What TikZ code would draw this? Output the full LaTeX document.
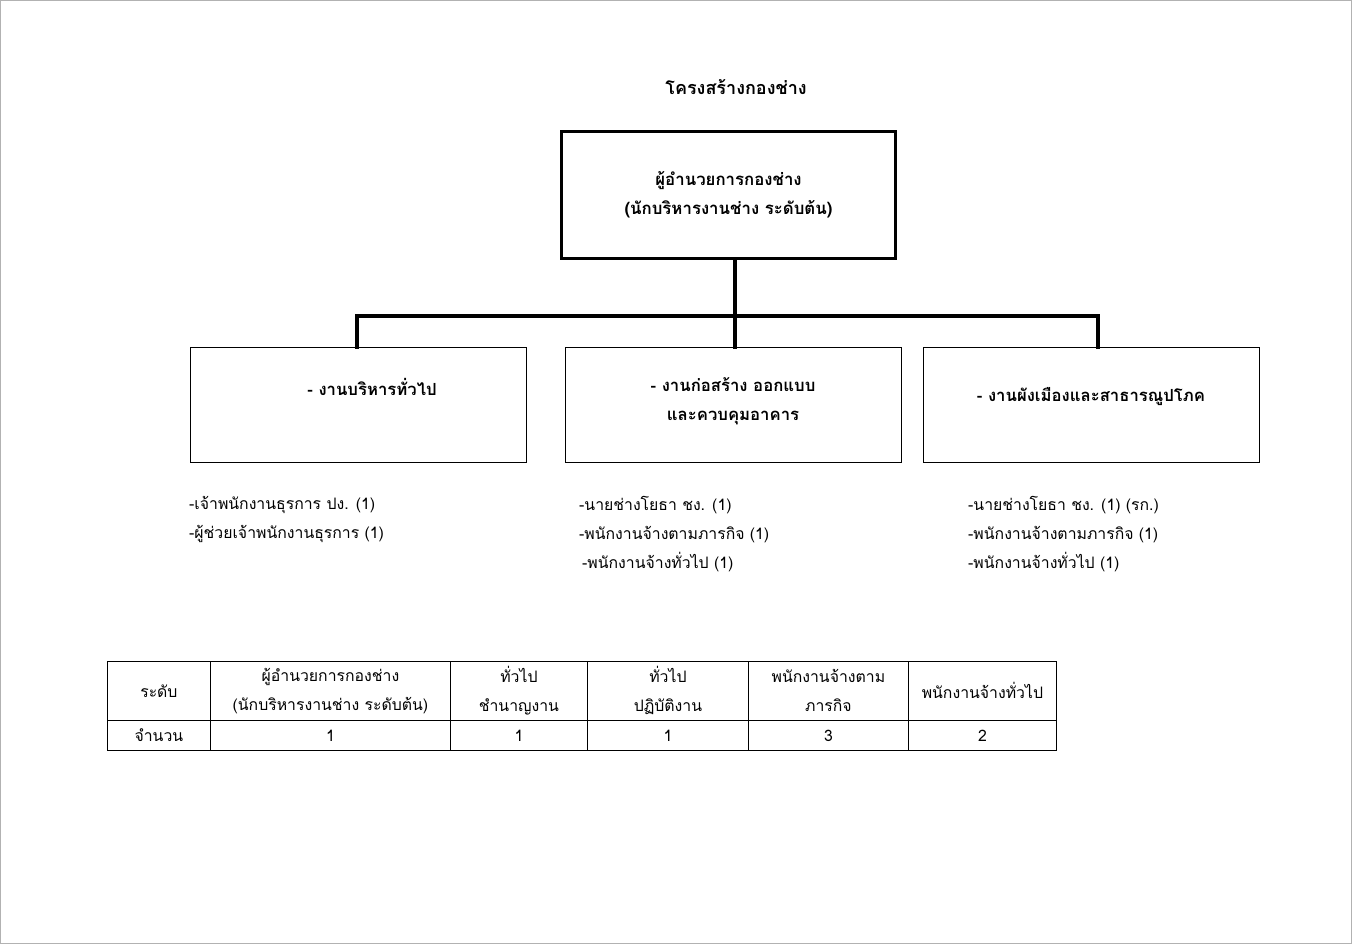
\documentclass[tikz,border=0pt]{standalone}
\usepackage{fontspec}
\newfontfamily\thaifont[Script=Thai]{Loma}
\usetikzlibrary{positioning}

\begin{document}
\begin{tikzpicture}[
  x=1pt, y=-1pt,
  font=\thaifont\fontsize{15.8}{29}\selectfont,
  head/.style={draw, line width=3pt, minimum width=334pt, minimum height=127pt,
    align=center, font=\thaifont\bfseries\fontsize{16.8}{29}\selectfont},
  unit/.style={draw, line width=0.8pt, minimum width=336pt, minimum height=115pt},
  unittxt/.style={align=center, font=\thaifont\bfseries\fontsize{16.7}{29}\selectfont},
  staff/.style={anchor=west, align=left, inner sep=0pt},
  cell/.style={draw, line width=0.8pt, anchor=north west, align=center, inner sep=0pt},
  link/.style={line width=4pt, line cap=rect}
]
  \useasboundingbox (0,0) rectangle (1352,944);
  \draw[gray!60, line width=2pt] (0,0) rectangle (1352,944);

  % title and director
  \node[font=\thaifont\bfseries\fontsize{18}{29}\selectfont] (title) at (736,87) {โครงสร้างกองช่าง};
  \node[head] (dir) at (728.5,195) {ผู้อำนวยการกองช่าง\\(นักบริหารงานช่าง ระดับต้น)};

  % divisions
  \node[unit] (gen) at (358,404.5) {};
  \node[unittxt] (genT) at (372,387) {- งานบริหารทั่วไป};
  \node[unit] (cons) at (733,405) {};
  \node[unittxt] (consT) at (733,401) {- งานก่อสร้าง ออกแบบ\\และควบคุมอาคาร};
  \node[unit] (town) at (1091.5,404.5) {};
  \node[unittxt] (townT) at (1091,397) {- งานผังเมืองและสาธารณูปโภค};

  \coordinate (hub) at (735,316);
  \draw[link] (dir.south -| hub) -- (hub);
  \draw[link] (hub) -| (gen.north -| 357,0);
  \draw[link] (hub) -- (cons.north -| hub);
  \draw[link] (hub) -| (town.north -| 1098,0);

  % staff lists
  \node[staff] (genS) at (189,519) {-เจ้าพนักงานธุรการ ปง. (1)\\-ผู้ช่วยเจ้าพนักงานธุรการ (1)};
  \node[staff] (consS) at (579,534) {-นายช่างโยธา ชง. (1)\\-พนักงานจ้างตามภารกิจ (1)\\\hspace{3pt}-พนักงานจ้างทั่วไป (1)};
  \node[staff] (townS) at (968,534) {-นายช่างโยธา ชง. (1) (รก.)\\-พนักงานจ้างตามภารกิจ (1)\\-พนักงานจ้างทั่วไป (1)};

  % summary table
  \node[cell, minimum width=103pt, minimum height=59pt] (lvl) at (107,661) {ระดับ};
  \node[cell, minimum width=240pt, minimum height=59pt] (lvlDir) at (210,661) {ผู้อำนวยการกองช่าง\\(นักบริหารงานช่าง ระดับต้น)};
  \node[cell, minimum width=137pt, minimum height=59pt] (lvlExp) at (450,661) {ทั่วไป\\ชำนาญงาน};
  \node[cell, minimum width=161pt, minimum height=59pt] (lvlOps) at (587,661) {ทั่วไป\\ปฏิบัติงาน};
  \node[cell, minimum width=160pt, minimum height=59pt] (lvlMis) at (748,661) {พนักงานจ้างตาม\\ภารกิจ};
  \node[cell, minimum width=148pt, minimum height=59pt] (lvlGen) at (908,661) {พนักงานจ้างทั่วไป};
  \node[cell, minimum width=103pt, minimum height=30pt] (cnt) at (107,720) {จำนวน};
  \node[cell, minimum width=240pt, minimum height=30pt] (cntDir) at (210,720) {1};
  \node[cell, minimum width=137pt, minimum height=30pt] (cntExp) at (450,720) {1};
  \node[cell, minimum width=161pt, minimum height=30pt] (cntOps) at (587,720) {1};
  \node[cell, minimum width=160pt, minimum height=30pt] (cntMis) at (748,720) {3};
  \node[cell, minimum width=148pt, minimum height=30pt] (cntGen) at (908,720) {2};
\end{tikzpicture}
\end{document}
